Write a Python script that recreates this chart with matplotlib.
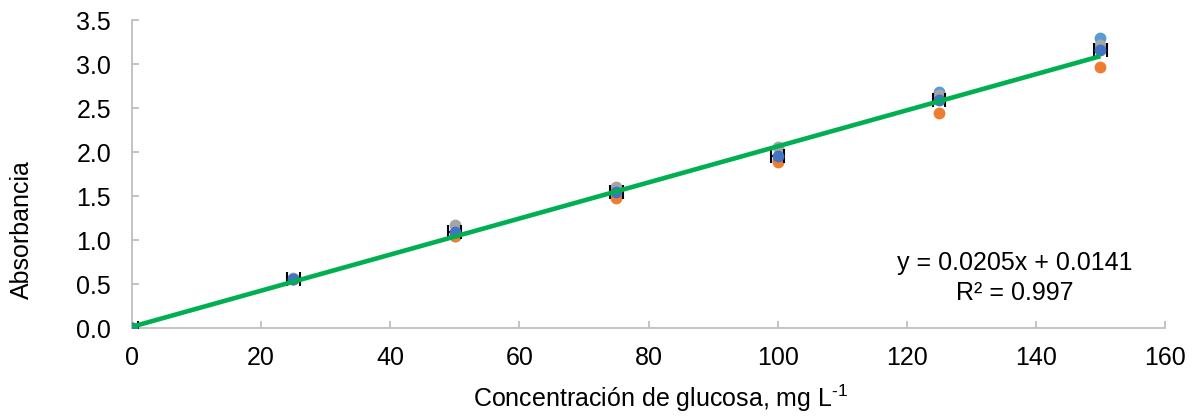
import matplotlib
matplotlib.use("Agg")
import matplotlib.pyplot as plt
import numpy as np

plt.rcParams['font.family'] = ['Liberation Sans', 'DejaVu Sans']
plt.rcParams['mathtext.fontset'] = 'custom'
plt.rcParams['mathtext.rm'] = 'Liberation Sans'
plt.rcParams['mathtext.it'] = 'Liberation Sans:italic'

# Data
conc = [0, 25, 50, 75, 100, 125, 150]
rep1 = [0.0, 0.56, 1.05, 1.57, 1.91, 2.68, 3.29]   # light blue
rep2 = [0.0, 0.56, 1.05, 1.48, 1.89, 2.44, 2.97]   # orange
rep3 = [0.0, 0.57, 1.17, 1.60, 2.06, 2.65, 3.22]   # gray
mean_abs = [0.0, 0.56, 1.09, 1.55, 1.95, 2.59, 3.16]  # dark blue (mean)
x_err = [1.0, 1.0, 1.0, 1.0, 1.0, 1.0, 1.0]
slope, intercept = 0.0205, 0.0141
r2 = 0.997
xticks = [0, 20, 40, 60, 80, 100, 120, 140, 160]
yticks = [0.0, 0.5, 1.0, 1.5, 2.0, 2.5, 3.0, 3.5]

FS = 18

fig = plt.figure(figsize=(11.94, 4.16), dpi=100)
ax = fig.add_axes([132/1194, 1-328/416, (1165-132)/1194, (328-20)/416])

ms = 7.5
ax.plot(conc, rep1, 'o', color='#5B9BD5', ms=ms, zorder=3)
ax.plot(conc, rep2, 'o', color='#ED7D31', ms=ms, zorder=3)
ax.plot(conc, rep3, 'o', color='#A5A5A5', ms=ms, zorder=3)
ax.errorbar(conc, mean_abs, xerr=x_err, fmt='o', color='#4472C4', ms=ms,
            ecolor='black', elinewidth=1.5, capsize=5, capthick=1.5, zorder=4)

xl = np.array([0, 150])
ax.plot(xl, slope*xl + intercept, color='#00B050', lw=3.3, zorder=5,
        solid_capstyle='butt')

ax.text(136.8, 0.57, f"y = {slope}x + {intercept}\nR² = {r2}", ha='center',
        va='center', fontsize=FS, linespacing=1.3)

ax.set_xlim(0, 160)
ax.set_ylim(0, 3.5)
ax.set_xticks(xticks)
ax.set_yticks(yticks)
ax.set_yticklabels([f"{v:.1f}" for v in yticks])
ax.set_xticklabels([str(v) for v in xticks])
for s in ['top', 'right']:
    ax.spines[s].set_visible(False)
for s in ['left', 'bottom']:
    ax.spines[s].set_color('#BFBFBF')
    ax.spines[s].set_linewidth(1.3)
ax.tick_params(axis='both', direction='in', length=5, width=1.3,
               color='#BFBFBF', labelsize=FS)
ax.tick_params(axis='y', pad=15)
ax.tick_params(axis='x', pad=13)

ax.set_xlabel("Concentración de glucosa, mg L$^{\\mathregular{\u2010 1}}$", fontsize=FS)
ax.set_ylabel("Absorbancia", fontsize=FS)
ax.xaxis.label.set_va('center')
ax.yaxis.label.set_va('center')
ax.xaxis.set_label_coords((661-132)/1033, -(398-328)/308)
ax.yaxis.set_label_coords((22-132)/1033, (328-230)/308)

fig.savefig("out.png", dpi=100)
